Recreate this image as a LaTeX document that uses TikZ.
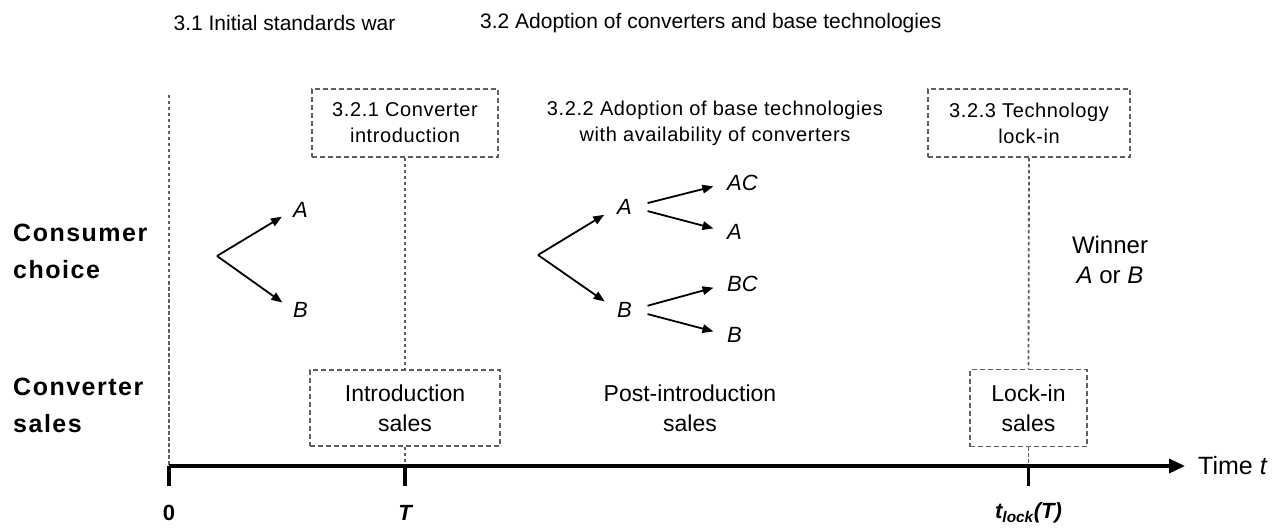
\documentclass[tikz,border=0pt]{standalone}
\usepackage{fontspec}
\setmainfont{Liberation Sans}
\newfontfamily\rowfont[LetterSpace=6]{Liberation Sans}
\newfontfamily\spfont[LetterSpace=3]{Liberation Sans}
\usetikzlibrary{arrows.meta}
\definecolor{lgray}{RGB}{95,95,95}
\begin{document}
\begin{tikzpicture}[x=1pt,y=-1pt,
  head/.style={font=\fontsize{21}{24}\selectfont, inner sep=0},
  rowlab/.style={font=\fontsize{25}{37}\rowfont\bfseries, align=left, anchor=west, inner sep=0},
  phase/.style={font=\fontsize{20}{26}\spfont, align=center, inner sep=0},
  phasebox/.style={draw=lgray, line width=1.6pt, dash pattern=on 5pt off 3pt, font=\fontsize{20}{26}\spfont, align=center, inner sep=0},
  salesbox/.style={draw=lgray, line width=1.6pt, dash pattern=on 5pt off 3pt, font=\fontsize{23}{30}\selectfont, align=center, inner sep=0},
  salestxt/.style={font=\fontsize{23}{30}\selectfont, align=center, inner sep=0},
  leaf/.style={font=\fontsize{22}{25}\selectfont\itshape, inner sep=0, anchor=west},
  arr/.style={line width=1.8pt, -{Triangle[length=11pt,width=8.5pt]}},
  vline/.style={draw=lgray, line width=1.8pt, dash pattern=on 3.5pt off 2.5pt},
  axlab/.style={font=\fontsize{22}{26}\selectfont\bfseries, inner sep=0}
]
\useasboundingbox (0,0) rectangle (1287,529);

% headings
\node[head] (h1) at (284.5,23) {3.1 Initial standards war};
\node[head, anchor=west] (h2) at (480,23) {3.2 Adoption of converters and base technologies};

% row labels
\node[rowlab] (cc) at (13,251) {Consumer\\choice};
\node[rowlab] (cs) at (13,405) {Converter\\sales};

% phase boxes
\node[phasebox, minimum width=186pt, minimum height=68pt] (p1) at (405,123) {3.2.1 Converter\\introduction};
\node[phase] (p2) at (715,123) {3.2.2 Adoption of base technologies\\with availability of converters};
\node[phasebox, minimum width=202pt, minimum height=68pt] (p3) at (1029,123) {3.2.3 Technology\\lock-in};

% sales
\node[salesbox, minimum width=190pt, minimum height=76pt] (s1) at (405,408) {Introduction\\sales};
\node[salestxt] (s2) at (690,408) {Post-introduction\\sales};
\node[salesbox, minimum width=117pt, minimum height=77pt] (s3) at (1028.5,408) {Lock-in\\sales};

% winner
\node[salestxt, font=\fontsize{24}{30}\selectfont] (win) at (1110,260) {Winner\\\textit{A} or \textit{B}};

% axis
\coordinate (t0) at (169,466);
\coordinate (tT) at (405,466);
\coordinate (tL) at (1028.5,466);
\coordinate (tE) at (1185,466);
\coordinate (z0) at (169,95);

% vertical dotted lines
\draw[vline] (z0) -- (t0);
\draw[vline] (p1.south) -- (s1.north);
\draw[vline] (s1.south) -- (tT);
\draw[vline] (p3.south) -- (s3.north);
\draw[vline] (s3.south) -- (tL);

\draw[line width=3.5pt, -{Triangle[length=16pt,width=14pt]}] (t0) -- (tE);
\foreach \c in {t0,tT,tL}
  \draw[line width=3.5pt] (\c) -- ++(0,20);
\node[font=\fontsize{25}{30}\selectfont, anchor=west, inner sep=0] (time) at (1198,466) {Time \textit{t}};

\node[axlab] (l0) at (169,513) {0};
\node[axlab] (lT) at (405,513) {\itshape T};
\node[axlab] (lL) at (1028.5,513) {\itshape t\textsubscript{lock}(T)};

% tree 1
\coordinate (r1) at (217,256);
\node[leaf] (A1) at (293,210) {A};
\node[leaf] (B1) at (293,310) {B};
\draw[arr, shorten >=13pt] (r1) -- (A1.west);
\draw[arr, shorten >=13pt] (r1) -- (B1.west);

% tree 2
\coordinate (r2) at (538,255);
\node[leaf] (A2) at (617,207) {A};
\node[leaf] (B2) at (617,310) {B};
\draw[arr, shorten >=15pt] (r2) -- (A2.west);
\draw[arr, shorten >=15pt] (r2) -- (B2.west);

\node[leaf] (AC) at (727,183) {AC};
\node[leaf] (A3) at (727,232) {A};
\node[leaf] (BC) at (727,284) {BC};
\node[leaf] (B3) at (727,335) {B};
\draw[arr, shorten <=16pt, shorten >=14pt] (A2.east) -- (AC.west);
\draw[arr, shorten <=16pt, shorten >=14pt] (A2.east) -- (A3.west);
\draw[arr, shorten <=16pt, shorten >=14pt] (B2.east) -- (BC.west);
\draw[arr, shorten <=16pt, shorten >=14pt] (B2.east) -- (B3.west);
\end{tikzpicture}
\end{document}
